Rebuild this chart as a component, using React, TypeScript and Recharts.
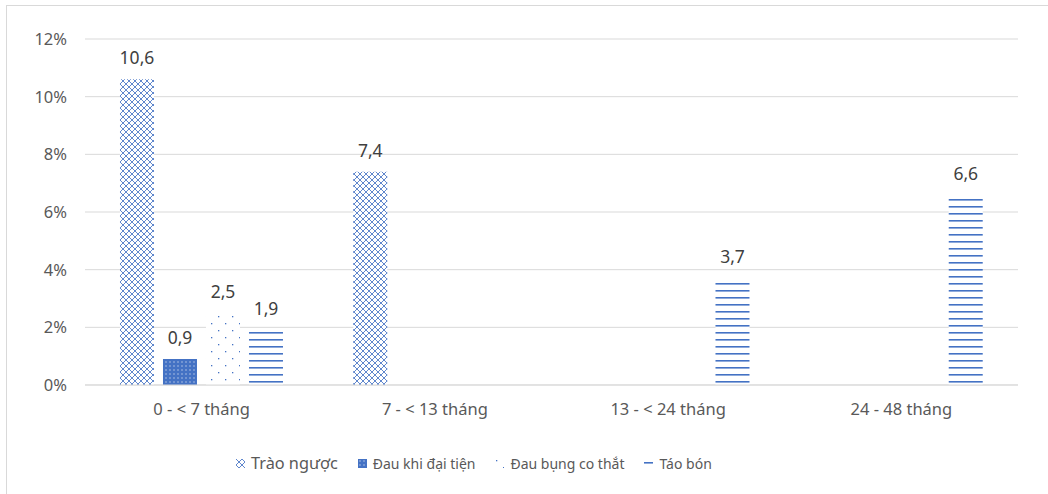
import { Bar, BarChart, CartesianGrid, LabelList, Legend, XAxis, YAxis } from "recharts";

const categories = ["0 - < 7 tháng", "7 - < 13 tháng", "13 - < 24 tháng", "24 - 48 tháng"];
const traoNguoc = [10.6, 7.4, null, null];
const dauKhiDaiTien = [0.9, null, null, null];
const dauBungCoThat = [2.5, null, null, null];
const taoBon = [1.9, null, 3.7, 6.6];
const yTicks = [0, 2, 4, 6, 8, 10, 12];

const series = [
  { key: "trao", name: "Trào ngược", fill: "url(#pTrao)", size: 16.3 },
  { key: "dau", name: "Đau khi đại tiện", fill: "url(#pDau)", size: 14 },
  { key: "co", name: "Đau bụng co thắt", fill: "url(#pCo)", size: 14 },
  { key: "tao", name: "Táo bón", fill: "url(#pTao)", size: 14 },
];

const data = categories.map((name, i) => ({
  name,
  trao: traoNguoc[i],
  dau: dauKhiDaiTien[i],
  co: dauBungCoThat[i],
  tao: taoBon[i],
}));

const BLUE = "#4472C4";
const FONT = "'Noto Sans', sans-serif";

const fmt = (v: any) => (v == null ? "" : String(v).replace(".", ","));

function LegendRow() {
  return (
    <div style={{ display: "flex", alignItems: "center", paddingLeft: 211, fontFamily: FONT, color: "#595959" }}>
      {series.map((s) => (
        <div key={s.key} style={{ display: "flex", alignItems: "center", marginRight: 20 }}>
          <svg width={9} height={9} style={{ marginRight: 6 }}>
            <rect width={9} height={9} fill={s.fill} />
          </svg>
          <span style={{ fontSize: s.size }}>{s.name}</span>
        </div>
      ))}
    </div>
  );
}

export default function App() {
  return (
    <div style={{ position: "absolute", left: 0, top: 0, width: 1048, height: 494, background: "#fff" }}>
      <div
        style={{
          position: "absolute",
          left: 6,
          top: 5,
          width: 1100,
          height: 600,
          borderLeft: "1px solid #D9D9D9",
          borderTop: "1px solid #D9D9D9",
        }}
      />
      <BarChart
        width={1048}
        height={494}
        data={data}
        margin={{ top: 39, right: 30, bottom: 18, left: 25 }}
        barCategoryGap="15%"
        barGap={9}
        style={{ position: "absolute", left: 0, top: 0 }}
      >
        <defs>
          <pattern id="pTrao" width={6} height={6} patternUnits="userSpaceOnUse">
            <rect width={6} height={6} fill="#fff" />
            <path d="M0,0 L6,6 M6,0 L0,6" stroke={BLUE} strokeWidth={1} strokeOpacity={0.85} />
          </pattern>
          <pattern id="pDau" width={4} height={4} patternUnits="userSpaceOnUse">
            <rect width={4} height={4} fill={BLUE} />
            <rect x={1.5} y={1.5} width={1} height={1} fill="#fff" />
          </pattern>
          <pattern id="pCo" width={14} height={14} patternUnits="userSpaceOnUse">
            <rect width={14} height={14} fill="#fff" />
            <rect x={1} y={1} width={1.3} height={1.3} fill={BLUE} />
            <rect x={8} y={8} width={1.3} height={1.3} fill={BLUE} />
          </pattern>
          <pattern id="pTao" width={8} height={7} patternUnits="userSpaceOnUse">
            <rect width={8} height={7} fill="#fff" />
            <rect x={0} y={3} width={8} height={1.6} fill={BLUE} />
          </pattern>
        </defs>
        <CartesianGrid vertical={false} stroke="#D9D9D9" />
        <XAxis
          dataKey="name"
          height={67}
          tickLine={false}
          axisLine={{ stroke: "#D9D9D9" }}
          tickMargin={12}
          tick={{ fill: "#595959", fontSize: 16.5, fontFamily: FONT }}
        />
        <YAxis
          domain={[0, 12]}
          ticks={yTicks}
          width={60}
          axisLine={false}
          tickLine={false}
          tickMargin={12}
          tickFormatter={(v) => `${v}%`}
          tick={{ fill: "#595959", fontSize: 16.5, fontFamily: FONT }}
        />
        <Legend verticalAlign="bottom" height={24} content={() => <LegendRow />} />
        {series.map((s) => (
          <Bar key={s.key} dataKey={s.key} name={s.name} fill={s.fill} isAnimationActive={false}>
            <LabelList
              dataKey={s.key}
              position="top"
              offset={15}
              formatter={fmt}
              style={{ fill: "#404040", fontSize: 17.5, fontFamily: FONT }}
            />
          </Bar>
        ))}
      </BarChart>
    </div>
  );
}
